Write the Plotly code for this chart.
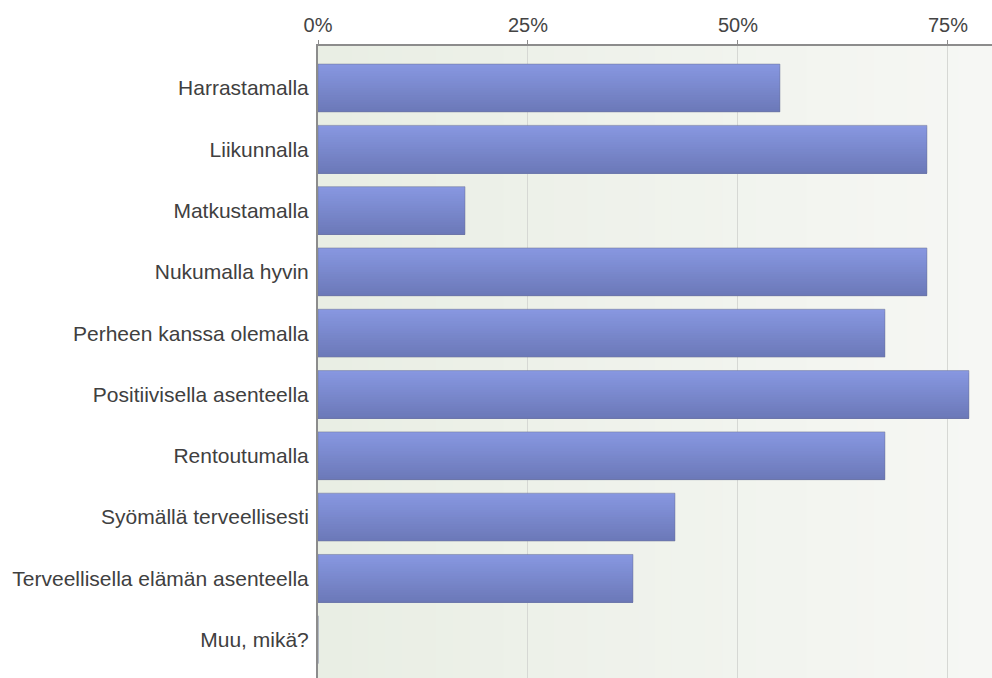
import plotly.graph_objects as go

# Survey answers (share of respondents, %)
categories = [
    "Harrastamalla",
    "Liikunnalla",
    "Matkustamalla",
    "Nukumalla hyvin",
    "Perheen kanssa olemalla",
    "Positiivisella asenteella",
    "Rentoutumalla",
    "Syömällä terveellisesti",
    "Terveellisella elämän asenteella",
    "Muu, mikä?",
]
values = [55.0, 72.5, 17.5, 72.5, 67.5, 77.5, 67.5, 42.5, 37.5, 0.0]
tick_values = [0, 25, 50, 75]
tick_labels = ["0%", "25%", "50%", "75%"]


def lerp_color(c1, c2, t):
    return "rgb({},{},{})".format(*[round(a + (b - a) * t) for a, b in zip(c1, c2)])


fig = go.Figure()

# Bars drawn as stacked-over layers, each starting a little lower,
# which gives a top-to-bottom shading without gaps between layers
bar_width = 0.78
n_layers = 20
top_col = (135, 151, 224)
bot_col = (108, 121, 185)
step = bar_width / n_layers
for i in range(n_layers):
    t = i / (n_layers - 1)
    offset = -bar_width / 2 + i * step
    fig.add_trace(go.Bar(
        x=values,
        y=list(range(len(categories))),
        orientation="h",
        width=bar_width - i * step,
        offset=offset,
        marker=dict(color=lerp_color(top_col, bot_col, t), line=dict(width=0)),
        showlegend=False,
        hoverinfo="skip",
    ))

# Thin outline around each bar
fig.add_trace(go.Bar(
    x=values,
    y=list(range(len(categories))),
    orientation="h",
    width=bar_width,
    marker=dict(color="rgba(0,0,0,0)", line=dict(color="rgba(110,115,150,0.5)", width=1)),
    showlegend=False,
    hoverinfo="skip",
))

# Soft horizontal background gradient of the plotting area
bg_left = (233, 238, 228)
bg_right = (246, 247, 244)
n_bg = 40
for i in range(n_bg):
    fig.add_shape(
        type="rect", xref="paper", yref="paper",
        x0=i / n_bg, x1=(i + 1) / n_bg + 0.002, y0=0, y1=1,
        fillcolor=lerp_color(bg_left, bg_right, i / (n_bg - 1)),
        line=dict(width=0), layer="below",
    )

fig.update_layout(
    width=992, height=678,
    margin=dict(l=318, r=0, t=46, b=0),
    paper_bgcolor="white",
    plot_bgcolor="rgba(0,0,0,0)",
    barmode="overlay",
    font=dict(family="Liberation Sans, Arial, sans-serif", color="#404040"),
    xaxis=dict(
        side="top",
        range=[0, 80.25],
        tickvals=tick_values,
        ticktext=tick_labels,
        tickfont=dict(size=20, color="#444444"),
        showgrid=True, gridcolor="#d6d8d4", gridwidth=1,
        showline=True, linecolor="#8c8c8c", linewidth=2,
        ticks="outside", ticklen=4, tickcolor="#8c8c8c",
        zeroline=False,
        fixedrange=True,
    ),
    yaxis=dict(
        range=[9.625, -0.685],
        tickvals=list(range(len(categories))),
        ticktext=categories,
        tickfont=dict(size=21, color="#404040"),
        showgrid=False,
        showline=True, linecolor="#8c8c8c", linewidth=2,
        ticks="", ticklabelstandoff=3,
        zeroline=False,
        fixedrange=True,
    ),
)

fig.write_html("out.html")
